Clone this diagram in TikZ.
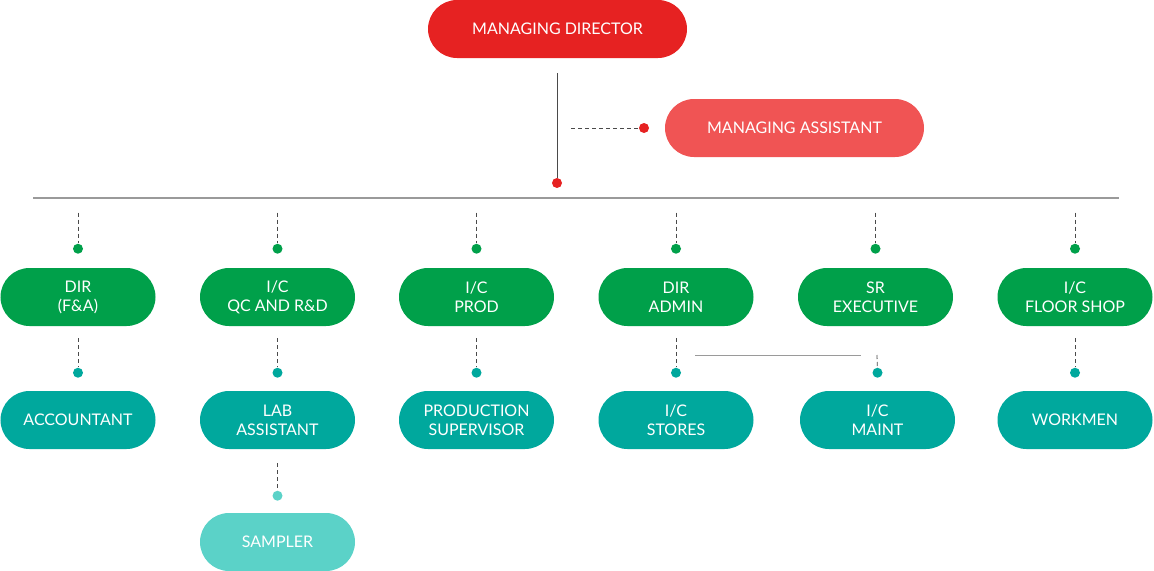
\documentclass[tikz,border=0pt]{standalone}
\usepackage{fontspec}
\setmainfont{Lato}
\usetikzlibrary{positioning}
\definecolor{mdred}{HTML}{E62222}
\definecolor{mared}{HTML}{F05454}
\definecolor{dirgreen}{HTML}{00A04A}
\definecolor{staffteal}{HTML}{00A89D}
\definecolor{lightteal}{HTML}{5BD2C8}
\definecolor{linegray}{HTML}{4A4A4A}
\definecolor{bargray}{HTML}{9A9A9A}
\tikzset{
  orgbox/.style={fill=#1, rounded corners=21.75pt, minimum width=116.25pt,
    minimum height=43.5pt, inner sep=0pt, text=white, align=center,
    font=\fontsize{12}{14.25}\selectfont},
  widebox/.style={orgbox=#1, minimum width=194.25pt},
  orgdot/.style={circle, fill=#1, inner sep=0pt, minimum size=7.5pt},
  dashlink/.style={draw=linegray, line width=0.6pt, dash pattern=on 3pt off 2.25pt},
}
\begin{document}
\begin{tikzpicture}[x=0.75pt,y=-0.75pt]
  \useasboundingbox (0,0) rectangle (1154,571);
  % top
  \node[widebox=mdred] (md) at (557.5,29) {MANAGING DIRECTOR};
  \node[widebox=mared] (ma) at (794.5,128) {MANAGING ASSISTANT};
  \coordinate (mdfoot) at (557,73);
  \node[orgdot=mdred] (mddot) at (557,183) {};
  \draw[linegray, line width=0.75pt] (mdfoot) -- (mddot);
  \coordinate (mastart) at (571,128);
  \node[orgdot=mdred] (madot) at (644,128) {};
  \draw[dashlink] (mastart) -- (madot);
  % main bar
  \coordinate (barl) at (33,198);
  \coordinate (barr) at (1119,198);
  \draw[bargray, line width=1pt] (barl) -- (barr);
  % heads
  \node[orgbox=dirgreen] (fa)    at (78,297)   {DIR\\(F\&A)};
  \node[orgbox=dirgreen] (qc)    at (277.5,297) {I/C\\QC AND R\&D};
  \node[orgbox=dirgreen] (prod)  at (476.5,297) {I/C\\PROD};
  \node[orgbox=dirgreen] (admin) at (676,297)  {DIR\\ADMIN};
  \node[orgbox=dirgreen] (exec)  at (875.5,297) {SR\\EXECUTIVE};
  \node[orgbox=dirgreen] (floor) at (1075,297) {I/C\\FLOOR SHOP};
  \foreach \n in {fa,qc,prod,admin,exec,floor}{
    \coordinate (\n top) at ([yshift=41.25pt]\n.north);
    \node[orgdot=dirgreen] (\n dot) at ([yshift=14.25pt]\n.north) {};
    \draw[dashlink] (\n top) -- (\n dot);
  }
  % staff
  \node[orgbox=staffteal] (acc)    at (78,420)   {ACCOUNTANT};
  \node[orgbox=staffteal] (lab)    at (277.5,420) {LAB\\ASSISTANT};
  \node[orgbox=staffteal] (sup)    at (476.5,420) {PRODUCTION\\SUPERVISOR};
  \node[orgbox=staffteal] (stores) at (676,420)  {I/C\\STORES};
  \node[orgbox=staffteal] (maint)  at (877.5,420) {I/C\\MAINT};
  \node[orgbox=staffteal] (work)   at (1075,420) {WORKMEN};
  \foreach \n/\m in {fa/acc,qc/lab,prod/sup,admin/stores,floor/work}{
    \coordinate (\m top) at ([yshift=-9pt]\n.south);
    \node[orgdot=staffteal] (\m dot) at ([yshift=13.5pt]\m.north) {};
    \draw[dashlink] (\m top) -- (\m dot);
  }
  \coordinate (linkl) at (695,355);
  \coordinate (linkr) at (861,355);
  \draw[bargray, line width=0.75pt] (linkl) -- (linkr);
  \coordinate (mainttop) at (877,355);
  \node[orgdot=staffteal] (maintdot) at ([yshift=13.5pt]maint.north) {};
  \draw[dashlink] (mainttop) -- (maintdot);
  % sampler
  \node[orgbox=lightteal] (samp) at (277.5,542) {SAMPLER};
  \coordinate (samptop) at ([yshift=-10.5pt]lab.south);
  \node[orgdot=lightteal] (sampdot) at ([yshift=12.75pt]samp.north) {};
  \draw[dashlink] (samptop) -- (sampdot);
\end{tikzpicture}
\end{document}
